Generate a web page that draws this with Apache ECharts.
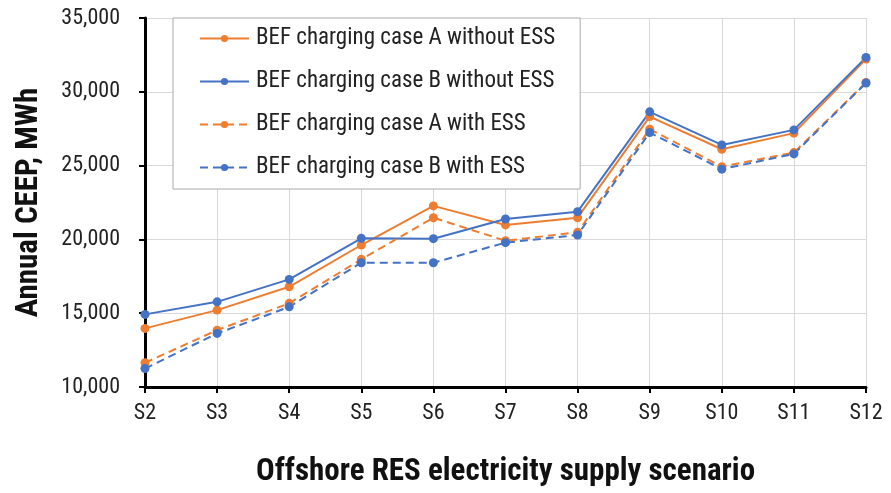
<!DOCTYPE html>
<html>
<head>
<meta charset="utf-8">
<script src="https://cdn.jsdelivr.net/npm/echarts@6/dist/echarts.min.js"></script>
<style>
  html, body { margin: 0; padding: 0; background: #fff; }
  #chart { width: 891px; height: 493px; }
</style>
</head>
<body>
<div id="chart"></div>
<script>
var scenarios = ['S2', 'S3', 'S4', 'S5', 'S6', 'S7', 'S8', 'S9', 'S10', 'S11', 'S12'];
var caseA_noESS = [13970, 15210, 16790, 19620, 22270, 20980, 21470, 28320, 26110, 27200, 32220];
var caseB_noESS = [14920, 15770, 17290, 20070, 20050, 21380, 21880, 28640, 26400, 27420, 32330];
var caseA_ESS = [11640, 13850, 15670, 18650, 21470, 19910, 20480, 27470, 24930, 25880, 30630];
var caseB_ESS = [11250, 13630, 15430, 18420, 18420, 19780, 20300, 27240, 24760, 25790, 30590];

var FONT = "'Roboto Condensed', 'Liberation Sans Narrow', 'DejaVu Sans Condensed', Roboto, sans-serif";
var ORANGE = '#ED7D31';
var BLUE = '#4472C4';

function mkSeries(name, data, color, dashed) {
    return {
        name: name,
        type: 'line',
        data: data,
        symbol: 'circle',
        symbolSize: 9,
        itemStyle: { color: color },
        lineStyle: { color: color, width: 2, type: dashed ? [8, 5] : 'solid' },
        animation: false
    };
}

var chart = echarts.init(document.getElementById('chart'));
var option = {
    backgroundColor: '#fff',
    textStyle: { fontFamily: FONT },
    grid: { left: 145, right: 25, top: 18, bottom: 105 },
    legend: {
        orient: 'vertical',
        left: 173,
        top: 18,
        padding: [9, 25, 10, 26],
        itemGap: 20,
        itemWidth: 49,
        itemHeight: 9,
        borderColor: '#aaa',
        borderWidth: 1,
        backgroundColor: '#fff',
        textStyle: { fontSize: 23, color: '#222', fontFamily: FONT, padding: [0, 0, 0, 2] },
        data: ['BEF charging case A without ESS', 'BEF charging case B without ESS',
               'BEF charging case A with ESS', 'BEF charging case B with ESS']
    },
    xAxis: {
        type: 'category',
        data: scenarios,
        boundaryGap: false,
        name: 'Offshore RES electricity supply scenario',
        nameLocation: 'middle',
        nameGap: 70,
        nameTextStyle: { fontSize: 31, fontWeight: 'bold', color: '#111', fontFamily: FONT },
        axisLine: { lineStyle: { color: '#000', width: 3 } },
        axisTick: { show: true, alignWithLabel: true, length: 6, lineStyle: { color: '#000', width: 2 } },
        axisLabel: { fontSize: 22, color: '#222', margin: 15, fontFamily: FONT },
        splitLine: { show: true, lineStyle: { color: '#d9d9d9', width: 1 } }
    },
    yAxis: {
        type: 'value',
        min: 10000,
        max: 35000,
        interval: 5000,
        name: 'Annual CEEP, MWh',
        nameLocation: 'middle',
        nameGap: 100,
        nameTextStyle: { fontSize: 31, fontWeight: 'bold', color: '#111', fontFamily: FONT },
        axisLine: { show: true, lineStyle: { color: '#000', width: 3 } },
        axisTick: { show: true, length: 6, lineStyle: { color: '#000', width: 2 } },
        axisLabel: {
            fontSize: 22, color: '#222', margin: 25, fontFamily: FONT,
            formatter: function (v) { return v.toLocaleString('en-US'); }
        },
        splitLine: { show: true, lineStyle: { color: '#d9d9d9', width: 1 } }
    },
    series: [
        mkSeries('BEF charging case A without ESS', caseA_noESS, ORANGE, false),
        mkSeries('BEF charging case B without ESS', caseB_noESS, BLUE, false),
        mkSeries('BEF charging case A with ESS', caseA_ESS, ORANGE, true),
        mkSeries('BEF charging case B with ESS', caseB_ESS, BLUE, true)
    ]
};
chart.setOption(option);
</script>
</body>
</html>
